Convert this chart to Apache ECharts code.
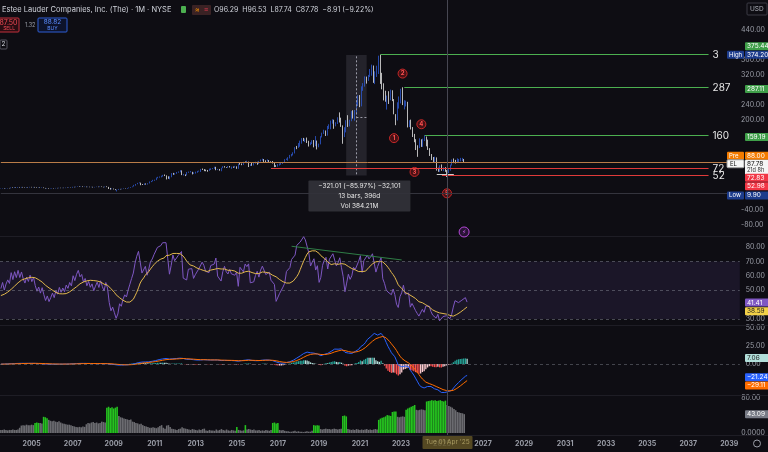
<!DOCTYPE html>
<html>
<head>
<meta charset="utf-8">
<title>EL 1M</title>
<script src="https://cdn.jsdelivr.net/npm/echarts@6/dist/echarts.min.js"></script>
<style>
  html, body { margin: 0; padding: 0; background: #0e0d13; }
  #chart { width: 768px; height: 452px; }
</style>
</head>
<body>
<div id="chart"></div>
<script>
// monthly bars, split adjusted (first visible bar 2003-07)
const warmupCloses = [
  18.2, 17.4, 18.0, 17.3, 18.4, 17.8, 18.5, 17.6, 16.4, 17.1, 16.6, 17.4, // 2001
  16.9, 17.6, 18.2, 17.5, 18.4, 17.8, 16.9, 17.5, 16.6, 17.2, 16.5, 16.9, // 2002
  16.3, 16.9, 16.4, 17.3, 16.8, 17.2                                      // 2003 H1
]
const closes = [
  17.6, 18.4, 17.5, 18.3, 18.9, 18.5,
  20.2, 19.4, 20.8, 20.1, 21.5, 20.6, 21.7, 20.8, 20.2, 21.3, 20.7, 21.9,
  21.0, 21.8, 20.6, 19.7, 20.4, 19.4, 20.3, 19.1, 18.0, 18.7, 17.6, 18.2,
  18.9, 18.1, 19.2, 18.6, 19.7, 18.9, 19.6, 19.0, 20.1, 19.6, 20.6, 20.1,
  22.0, 21.3, 22.6, 23.5, 22.6, 23.1, 22.0, 22.7, 21.6, 22.4, 21.5, 22.1,
  21.0, 21.8, 22.5, 21.7, 22.9, 22.0, 21.3, 22.8, 21.9, 19.0, 16.8, 17.4,
  15.8, 13.9, 14.6, 16.4, 15.7, 17.0, 17.9, 17.4, 18.8, 20.1, 21.5, 23.0,
  26.4, 29.6, 32.4, 32.9, 28.0, 27.9, 31.0, 28.7, 31.6, 35.6, 37.3, 40.3,
  40.5, 46.5, 48.2, 48.4, 51.5, 52.6, 52.4, 48.7, 43.9, 49.3, 58.4, 56.2,
  57.8, 61.0, 61.9, 65.4, 54.1, 54.1, 53.2, 61.3, 61.6, 61.8, 57.4, 59.9,
  60.1, 64.0, 64.0, 69.3, 68.1, 65.8, 65.6, 65.3, 69.9, 70.9, 70.9, 75.3,
  68.8, 69.1, 66.9, 72.6, 76.5, 74.3, 73.4, 76.4, 74.7, 75.2, 74.4, 76.2,
  70.6, 83.3, 83.2, 81.3, 87.8, 86.7, 89.1, 79.8, 80.6, 80.5, 84.9, 88.1,
  85.3, 90.8, 94.3, 95.8, 91.1, 91.0, 92.9, 89.1, 88.6, 87.1, 77.1, 76.5,
  81.1, 82.0, 84.8, 87.1, 95.6, 95.8, 98.8, 106.8, 107.8, 111.8, 127.3, 127.2,
  134.9, 138.6, 149.7, 148.1, 149.4, 142.7, 134.9, 140.2, 145.3, 137.8, 143.6, 130.1,
  136.4, 155.0, 165.5, 171.9, 160.8, 183.1, 185.5, 198.3, 199.0, 186.3, 193.4, 206.5,
  195.1, 183.5, 159.3, 176.4, 197.6, 188.7, 197.5, 221.9, 218.3, 219.7, 244.2, 266.2,
  236.6, 284.5, 290.8, 313.8, 306.5, 318.1, 333.8, 340.4, 299.9, 324.3, 328.5, 370.2,
  311.9, 296.3, 272.3, 264.1, 264.6, 254.7, 273.1, 253.9, 215.9, 200.5, 234.7, 248.1,
  277.1, 242.3, 246.5, 246.8, 184.1, 196.4, 180.0, 160.4, 144.6, 128.9, 127.9, 146.3,
  132.0, 148.9, 154.2, 146.5, 123.2, 106.4, 99.9, 91.7, 99.7, 68.9, 64.6, 75.0,
  66.4, 71.7, 66.0, 60.0, 67.0, 80.8, 93.4, 88.4, 88.1, 90.6, 92.3, 94.8,
  96.29, 87.78
]
const highs = [
  17.9, 18.7, 18.6, 18.5, 19.2, 19.3,
  20.5, 20.6, 21.1, 21.2, 21.8, 21.9, 22.0, 22.0, 21.1, 21.6, 21.6, 22.2,
  22.2, 22.1, 22.0, 20.9, 20.7, 20.6, 20.6, 20.5, 19.3, 18.9, 18.9, 18.4,
  19.2, 19.1, 19.4, 19.4, 19.9, 19.9, 19.8, 19.8, 20.3, 20.3, 20.8, 20.8,
  22.3, 22.3, 22.9, 23.8, 23.8, 23.4, 23.4, 23.0, 22.9, 22.7, 22.6, 22.4,
  22.4, 22.1, 22.8, 22.8, 23.2, 23.2, 22.3, 23.1, 23.6, 22.2, 19.3, 17.9,
  17.7, 16.1, 15.0, 16.7, 16.8, 17.3, 18.2, 18.3, 19.1, 20.5, 21.9, 23.4,
  27.5, 29.9, 32.8, 34.3, 33.4, 29.8, 31.4, 31.3, 31.9, 36.6, 37.9, 40.9,
  41.3, 47.0, 48.9, 49.9, 52.0, 54.2, 55.1, 52.8, 50.3, 50.2, 58.8, 59.4,
  58.6, 61.8, 63.3, 66.9, 66.0, 56.9, 55.3, 61.9, 63.0, 64.4, 62.3, 60.9,
  62.7, 64.7, 65.5, 70.0, 71.0, 69.5, 68.1, 67.2, 70.8, 71.6, 72.3, 75.8,
  75.6, 70.1, 69.9, 73.1, 77.2, 77.4, 74.9, 77.5, 77.7, 76.0, 76.4, 78.0,
  76.9, 84.0, 86.3, 84.5, 88.9, 89.9, 91.8, 89.5, 82.5, 86.8, 85.9, 89.3,
  88.9, 91.4, 95.2, 97.5, 96.3, 93.0, 95.5, 93.6, 90.4, 91.1, 87.7, 79.9,
  83.0, 84.5, 87.0, 88.5, 95.9, 97.6, 101.1, 107.3, 110.0, 114.3, 127.9, 131.2,
  138.9, 145.3, 152.0, 152.7, 150.9, 153.6, 145.0, 141.0, 146.4, 146.9, 157.5, 145.5,
  137.4, 157.2, 166.6, 174.4, 172.5, 184.5, 188.9, 198.9, 202.5, 201.1, 194.4, 207.6,
  220.6, 206.5, 186.0, 181.0, 199.8, 213.1, 201.0, 224.0, 226.4, 227.0, 253.9, 266.3,
  266.7, 290.0, 298.5, 316.5, 315.9, 320.5, 336.1, 347.8, 345.5, 330.0, 345.0, 371.7,
  374.2, 326.0, 298.1, 278.3, 265.5, 277.0, 281.2, 279.5, 256.0, 215.9, 247.5, 263.0,
  283.6, 287.5, 253.0, 251.9, 248.8, 199.6, 201.3, 181.5, 163.3, 149.2, 133.0, 151.5,
  148.9, 150.7, 159.8, 156.3, 148.0, 125.3, 109.7, 101.7, 102.5, 100.7, 73.3, 79.6,
  82.0, 74.1, 74.8, 66.9, 69.4, 81.5, 95.2, 97.8, 94.1, 98.2, 96.5, 99.4,
  99.5, 96.53
]
const lows = [
  16.9, 17.4, 17.3, 17.3, 18.0, 18.2,
  18.3, 19.1, 19.2, 19.8, 19.8, 20.3, 20.3, 20.5, 19.9, 20.0, 20.4, 20.5,
  20.7, 20.8, 20.3, 19.4, 19.4, 19.1, 19.2, 18.9, 17.7, 17.7, 17.3, 17.4,
  17.9, 17.9, 17.9, 18.4, 18.4, 18.7, 18.7, 18.8, 18.8, 19.4, 19.4, 19.9,
  19.9, 21.0, 21.1, 22.4, 22.3, 22.4, 21.7, 21.6, 21.3, 21.4, 21.2, 21.3,
  20.6, 20.7, 21.5, 21.4, 21.5, 21.7, 20.9, 21.0, 21.5, 16.5, 14.9, 15.8,
  15.4, 13.5, 9.90, 14.3, 15.4, 15.5, 16.7, 17.1, 17.2, 18.5, 19.8, 21.2,
  23.8, 25.3, 29.2, 31.6, 26.6, 27.3, 27.2, 28.2, 28.4, 31.3, 34.8, 36.7,
  38.3, 40.1, 45.0, 46.6, 47.5, 49.4, 51.0, 42.0, 43.7, 42.3, 47.8, 54.3,
  54.5, 56.9, 59.6, 60.9, 53.5, 52.6, 50.9, 52.8, 59.4, 60.6, 55.4, 56.5,
  57.6, 59.7, 62.7, 61.9, 67.2, 64.0, 63.8, 62.5, 64.7, 67.1, 69.4, 70.0,
  66.5, 66.8, 65.2, 63.8, 72.0, 73.6, 72.8, 73.0, 73.8, 70.3, 73.0, 73.2,
  70.2, 70.2, 81.2, 79.9, 80.5, 85.9, 85.3, 75.0, 77.7, 78.3, 79.3, 84.1,
  81.1, 83.0, 89.8, 92.1, 88.5, 86.9, 89.7, 88.2, 86.3, 84.5, 74.8, 75.4,
  76.0, 79.0, 81.1, 83.0, 86.6, 94.0, 91.8, 98.0, 103.2, 105.8, 111.2, 122.6,
  126.0, 129.0, 137.3, 144.0, 141.5, 139.1, 129.6, 133.2, 136.2, 127.5, 130.5, 121.9,
  127.6, 135.4, 153.8, 163.2, 157.7, 158.7, 176.4, 175.6, 190.5, 176.9, 183.5, 189.6,
  193.7, 182.0, 137.0, 154.7, 167.3, 181.8, 183.2, 197.0, 204.2, 198.5, 214.5, 237.6,
  234.5, 236.9, 278.0, 289.2, 297.3, 304.5, 314.7, 318.4, 299.2, 296.0, 315.0, 323.0,
  296.5, 282.1, 252.4, 249.0, 228.0, 243.0, 253.0, 250.6, 215.5, 186.5, 199.0, 230.7,
  244.5, 240.0, 228.5, 236.4, 180.5, 181.5, 175.1, 155.0, 141.1, 120.3, 102.2, 125.5,
  128.6, 128.7, 144.1, 130.2, 120.6, 104.5, 93.4, 87.0, 86.4, 65.5, 62.3, 62.3,
  65.0, 64.0, 62.3, 48.4, 58.8, 65.3, 79.0, 85.5, 84.4, 85.9, 87.0, 90.2,
  91.2, 87.74
]
// volume, millions
const volumes = [
  7, 7, 8, 7, 6, 7,
  7, 8, 7, 7, 8, 12, 17, 18, 17, 19, 18, 18,
  19, 18, 23, 24, 23, 23, 22, 37, 36, 34, 30, 28,
  27, 28, 26, 25, 27, 24, 22, 21, 20, 19, 19, 18,
  16, 15, 14, 13, 14, 13, 15, 14, 20, 23, 22, 24,
  25, 23, 24, 22, 23, 26, 25, 24, 58, 60, 57, 59,
  56, 58, 60, 39, 36, 35, 33, 32, 31, 30, 31, 26,
  25, 23, 22, 20, 21, 18, 16, 15, 14, 12, 12, 13,
  12, 11, 13, 16, 18, 12, 10, 17, 18, 14, 10, 9,
  8, 7, 9, 10, 13, 11, 10, 9, 8, 7, 9, 8,
  7, 6, 8, 7, 9, 10, 6, 5, 7, 6, 6, 5,
  8, 6, 7, 9, 7, 6, 8, 6, 5, 7, 6, 5,
  14, 7, 6, 5, 6, 18, 8, 9, 8, 7, 8, 6,
  6, 7, 5, 6, 5, 7, 6, 5, 7, 23, 24, 22,
  23, 7, 6, 7, 5, 4, 4, 3, 3, 4, 5, 3,
  4, 3, 3, 2, 3, 4, 3, 3, 5, 18, 17, 18,
  17, 9, 8, 9, 10, 9, 9, 8, 9, 10, 9, 8,
  9, 10, 39, 40, 38, 9, 8, 7, 8, 7, 9, 8,
  7, 8, 7, 8, 9, 7, 8, 7, 8, 9, 8, 30,
  33, 35, 36, 38, 41, 40, 39, 48, 49, 49, 37, 36,
  37, 38, 37, 53, 56, 58, 60, 62, 64, 53, 52, 53,
  54, 53, 52, 72, 73, 74, 75, 74, 75, 73, 74, 75,
  73, 72, 74, 64, 62, 60, 58, 55, 52, 48, 47, 46,
  45, 43.09
]
const greenVolRanges = [
  ['2005-03', '2005-05'], ['2005-08', '2005-10'], ['2008-09', '2009-03'],
  ['2015-01', '2015-01'], ['2015-06', '2015-06'], ['2016-10', '2017-01'],
  ['2018-10', '2019-01'], ['2020-03', '2020-05'], ['2021-12', '2022-10'],
  ['2023-04', '2023-09'], ['2024-04', '2025-03']
]
// drawn horizontal levels: [from month, to month, price, colour, text]
const levels = [
  ['2003-07', '2039-04', 88, '#b97c48', ''],
  ['2003-07', '2039-04', 5, '#34343d', ''],
  ['2022-01', '2038-01', 375.44, '#4caf50', '3'],
  ['2023-03', '2038-01', 287.11, '#4caf50', '287'],
  ['2024-03', '2038-01', 159.19, '#4caf50', '160'],
  ['2016-09', '2038-01', 72.83, '#e03a3a', '72'],
  ['2025-01', '2038-01', 52.98, '#e03a3a', '52'],
  ['2024-10', '2025-08', 56.6, '#cfcfcf', '']
]
const priceTicks = [440, 360, 320, 240, 200, -40, -80]
const rsiTicks = [80, 70, 60, 50, 30]
const macdTicks = [50, 25, 0]

// month axis 2003-07 .. 2039-04
const months = []
for (let i = 0; i < 430; i++) {
  const y = 2003 + Math.floor((6 + i) / 12)
  const m = (6 + i) % 12 + 1
  months.push(y + '-' + String(m).padStart(2, '0'))
}

const allCloses = warmupCloses.concat(closes)
const off = warmupCloses.length
const vis = months.slice(0, closes.length)

// candles: open is previous month's close
const candles = closes.map((c, i) => {
  const o = allCloses[off + i - 1]
  return [o, c, Math.min(lows[i], o, c), Math.max(highs[i], o, c)]
})

function rsiCalc(src, len) {
  const out = []
  let up = 0, dn = 0
  for (let i = 0; i < src.length; i++) {
    if (i === 0) { out.push(null); continue }
    const ch = src[i] - src[i - 1]
    const u = Math.max(ch, 0), d = Math.max(-ch, 0)
    if (i <= len) { up += u / len; dn += d / len } else {
      up = (up * (len - 1) + u) / len
      dn = (dn * (len - 1) + d) / len
    }
    out.push(i < len ? null : (dn === 0 ? 100 : 100 - 100 / (1 + up / dn)))
  }
  return out
}
function sma(src, len) {
  return src.map((v, i) => {
    if (i < len - 1) return null
    let s = 0
    for (let k = i - len + 1; k <= i; k++) { if (src[k] == null) return null; s += src[k] }
    return s / len
  })
}
function ema(src, len) {
  const a = 2 / (len + 1)
  let prev = null
  return src.map(v => { prev = prev == null ? v : prev + a * (v - prev); return prev })
}

const rsiAll = rsiCalc(allCloses, 14)
const rsiMaAll = sma(rsiAll, 14)
const e12 = ema(allCloses, 12), e26 = ema(allCloses, 26)
const macdAll = e12.map((v, i) => v - e26[i])
const sigAll = ema(macdAll, 9)
const histAll = macdAll.map((v, i) => v - sigAll[i])

const rsi = rsiAll.slice(off), rsiMa = rsiMaAll.slice(off)
const macd = macdAll.slice(off), signal = sigAll.slice(off)
const hist = histAll.slice(off).map((h, i) => {
  const p = histAll[off + i - 1]
  const color = h >= 0 ? (h > p ? '#26a69a' : '#b2dfdb') : (h < p ? '#ff5252' : '#ffcdd2')
  return { value: h, itemStyle: { color } }
})
const volBars = volumes.map((v, i) => {
  const m = vis[i]
  const hot = greenVolRanges.some(r => m >= r[0] && m <= r[1])
  return { value: v, itemStyle: { color: hot ? '#25c21f' : '#6b6b70' } }
})

const FONT = 'Inter, "Noto Sans", sans-serif'
const axisTxt = '#9b9ea8'
const L = -1, R = 23

function xAxisFor(idx, showLabels) {
  return {
    type: 'category', gridIndex: idx, data: months, boundaryGap: true,
    axisLine: { show: false }, axisTick: { show: false }, splitLine: { show: false },
    axisLabel: {
      show: showLabels, color: axisTxt, fontSize: 7, fontWeight: 'bold', fontFamily: FONT, margin: 7,
      interval: (i, v) => v.endsWith('-01') && (+v.slice(0, 4)) % 2 === 1,
      formatter: v => v.slice(0, 4)
    }
  }
}
function yAxisFor(idx, min, max, interval, fmt) {
  return {
    type: 'value', gridIndex: idx, position: 'right', min, max, interval,
    axisLine: { show: false }, axisTick: { show: false }, splitLine: { show: false },
    axisLabel: { color: axisTxt, fontSize: 7, fontFamily: FONT, margin: 6, formatter: fmt }
  }
}

const chart = echarts.init(document.getElementById('chart'))
chart.setOption({
  backgroundColor: '#0e0d13',
  animation: false,
  grid: [
    { left: L, right: R, top: -2.32, height: 242.56 },
    { left: L, right: R, top: 232.6, height: 100.8 },
    { left: L, right: R, top: 328, height: 72 },
    { left: L, right: R, top: 398, height: 35 }
  ],
  xAxis: [xAxisFor(0, false), xAxisFor(1, false), xAxisFor(2, false), xAxisFor(3, true)],
  yAxis: [
    yAxisFor(0, -120, 520, 40, v => priceTicks.includes(v) ? v.toFixed(2) : ''),
    yAxisFor(1, 20, 90, 10, v => rsiTicks.includes(v) ? v.toFixed(2) : ''),
    yAxisFor(2, -50, 50, 25, v => macdTicks.includes(v) ? v.toFixed(2) : ''),
    yAxisFor(3, 0, 80, 40, v => v === 80 ? '80.00' : (v === 0 ? '0.0000' : ''))
  ],
  series: [
    {
      type: 'candlestick', xAxisIndex: 0, yAxisIndex: 0, data: candles, barWidth: '55%', z: 4,
      itemStyle: { color: '#2d59d2', color0: '#e6e6e6', borderColor: '#2d59d2', borderColor0: '#e6e6e6', borderWidth: 0.8 },
      markLine: {
        silent: true, symbol: ['none', 'none'], animation: false, label: { show: false },
        lineStyle: { color: '#9a9aa6', type: [2, 2], width: 1 },
        data: [
          [{ coord: ['2020-11', 370] }, { coord: ['2020-11', 54] }],
          [{ coord: ['2020-11', 208] }, { coord: ['2021-05', 208] }]
        ]
      },
      markArea: {
        silent: true,
        data: [[{ coord: ['2020-05', 373.4], itemStyle: { color: 'rgba(125,125,140,0.2)' } }, { coord: ['2021-05', 52.4] }]]
      },
      markPoint: {
        silent: true, symbol: 'circle', symbolSize: 9, animation: false,
        itemStyle: { color: 'rgba(110,20,24,0.6)', borderColor: '#c62828', borderWidth: 1 },
        label: { show: true, formatter: p => p.name, color: '#ff5252', fontSize: 6, fontWeight: 'bold', fontFamily: FONT },
        data: [
          { name: '1', coord: ['2022-09', 152] },
          { name: '2', coord: ['2023-02', 324] },
          { name: '3', coord: ['2023-09', 62] },
          { name: '4', coord: ['2024-01', 189] },
          { name: '5', coord: ['2025-04', 5] },
          { name: '⚡', coord: ['2026-02', -98], symbolSize: 10,
            itemStyle: { color: 'rgba(120,40,150,0.25)', borderColor: '#b548d8', borderWidth: 1 },
            label: { color: '#c860e8', fontSize: 6, fontFamily: 'DejaVu Sans' } }
        ]
      }
    },
    {
      name: 'RSI', type: 'line', xAxisIndex: 1, yAxisIndex: 1, data: rsi, showSymbol: false,
      lineStyle: { color: '#7e57c2', width: 1 }, z: 3,
      markArea: { silent: true, data: [[{ yAxis: 70, itemStyle: { color: 'rgba(126,87,194,0.12)' } }, { yAxis: 30 }]] },
      markLine: {
        silent: true, symbol: ['none', 'none'], label: { show: false },
        lineStyle: { color: 'rgba(120,123,134,0.55)', type: [3, 3], width: 1 },
        data: [
          { yAxis: 70 }, { yAxis: 50 }, { yAxis: 30 },
          [{ coord: ['2017-08', 80.5], lineStyle: { color: '#2f7d46', type: 'solid' } }, { coord: ['2022-12', 71], lineStyle: { color: '#2f7d46', type: 'solid' } }]
        ]
      }
    },
    {
      name: 'RSI MA', type: 'line', xAxisIndex: 1, yAxisIndex: 1, data: rsiMa, showSymbol: false,
      lineStyle: { color: '#e2b84c', width: 1 }, z: 4
    },
    {
      name: 'Histogram', type: 'bar', xAxisIndex: 2, yAxisIndex: 2, data: hist, barWidth: '75%',
      markLine: {
        silent: true, symbol: ['none', 'none'], label: { show: false },
        lineStyle: { color: 'rgba(120,123,134,0.5)', type: [3, 3], width: 1 },
        data: [{ yAxis: 0 }]
      }
    },
    {
      name: 'MACD', type: 'line', xAxisIndex: 2, yAxisIndex: 2, data: macd, showSymbol: false,
      lineStyle: { color: '#2962ff', width: 1 }, z: 4
    },
    {
      name: 'Signal', type: 'line', xAxisIndex: 2, yAxisIndex: 2, data: signal, showSymbol: false,
      lineStyle: { color: '#ff6d00', width: 1 }, z: 4
    },
    {
      name: 'Volume', type: 'bar', xAxisIndex: 3, yAxisIndex: 3, data: volBars, barCategoryGap: '8%'
    }
  ]
})

// overlays: levels, header, price-scale tags, crosshair, measure box
const py = (yi, v) => chart.convertToPixel({ yAxisIndex: yi }, v)
const pxm = m => chart.convertToPixel({ xAxisIndex: 0 }, m)
const g = []
function txt(x, y, text, fill, size, align) {
  g.push({ type: 'text', x, y, z: 120, silent: true,
    style: { text, fill, font: (size || 7) + 'px ' + FONT, align: align || 'left', verticalAlign: 'middle' } })
}
function box(x, y, w, h, fill, stroke, z) {
  g.push({ type: 'rect', z: z || 110, silent: true, shape: { x, y, width: w, height: h, r: 1 },
    style: { fill: fill || 'none', stroke: stroke || null, lineWidth: stroke ? 1 : 0 } })
}
function tagAt(yi, v, dy, text, bg, fg, tag, tagBg, tagFg) {
  const y = py(yi, v) + dy
  box(745, y - 4, 24, 8, bg)
  txt(747, y, text, fg, 6.5)
  if (tag) { box(727, y - 4, 17, 8, tagBg || bg); txt(729, y, tag, tagFg || fg, 6) }
}

levels.forEach(([a, b, v, color, label]) => {
  const y = Math.round(py(0, v)) + 0.5
  const x1 = pxm(a), x2 = pxm(b)
  g.push({ type: 'line', z: 60, silent: true, shape: { x1, y1: y, x2, y2: y }, style: { stroke: color, lineWidth: 1 } })
  if (label) txt(x2 + 4, y, label, '#e8e8e8', 10)
})

// pane separators
;[236.5, 325.5, 395.5, 435.5].forEach(y => g.push({ type: 'line', z: 1, silent: true,
  shape: { x1: 0, y1: y, x2: 768, y2: y }, style: { stroke: '#1e1d25', lineWidth: 1 } }))

// crosshair
const cx = Math.round(pxm('2025-04')) + 0.5
g.push({ type: 'line', z: 90, silent: true, shape: { x1: cx, y1: 0, x2: cx, y2: 435 }, style: { stroke: '#474752', lineWidth: 1 } })
box(cx - 25, 436, 50, 13, 'rgba(96,84,38,0.85)', null, 115)
txt(cx, 442.5, "Tue 01 Apr '25", '#a89a60', 6.5, 'center')
box(745, 436, 23, 16, '#0e0d13', null, 115)
g.push({ type: 'circle', z: 120, silent: true, shape: { cx: 757, cy: 443.5, r: 3.5 }, style: { fill: 'none', stroke: '#9b9ea8', lineWidth: 1 } })

// header
txt(2, 10, 'Estee Lauder Companies, Inc. (The) · 1M · NYSE', '#d1d4dc', 7.5)
box(181, 6, 5, 7, '#4caf50')
box(192, 5, 19, 10, '#3a2224')
txt(195, 10, '≈', '#ff9800', 7)
txt(204, 10, '≡', '#e53950', 7)
txt(214, 10, 'O96.29  H96.53  L87.74  C87.78  −8.91 (−9.22%)', '#d1d4dc', 7)
box(-3, 18, 22, 14, 'rgba(60,14,18,0.6)', '#c2303c')
txt(17.5, 22.5, '87.50', '#f04a55', 7, 'right')
txt(15, 28.5, 'SELL', '#f04a55', 5, 'right')
txt(25, 25, '1.32', '#9b9ea8', 5.5)
box(38, 18, 29, 14, 'rgba(14,24,60,0.6)', '#2f5fd6')
txt(52.5, 22.5, '88.82', '#5b8cff', 6.5, 'center')
txt(52.5, 28.5, 'BUY', '#5b8cff', 5, 'center')
box(0, 40, 7, 9, null, '#555560')
txt(1.5, 44.5, '2', '#d1d4dc', 6.5)
box(747, 3, 20, 12, null, '#3a3a44')
txt(750, 9, 'USD', '#b2b5be', 6.5)

// price scale tags
tagAt(0, 375.44, -8, '375.44', '#3f9f49', '#ffffff')
tagAt(0, 374.20, 0, '374.20', '#1d3c8c', '#ffffff', 'High')
tagAt(0, 287.11, 1.5, '287.11', '#3f9f49', '#ffffff')
tagAt(0, 159.19, 1.5, '159.19', '#3f9f49', '#ffffff')
tagAt(0, 88, -6.4, '88.00', '#f57c00', '#ffffff', 'Pre')
const elY = py(0, 87.78) + 1.5
box(745, elY - 4, 24, 15, '#f5f5f5')
txt(747, elY, '87.78', '#111111', 6.5)
txt(747, elY + 7, '21d 8h', '#333333', 5.5)
box(727, elY - 4, 17, 8, '#f5f5f5', '#999999')
txt(730, elY, 'EL', '#111111', 6)
tagAt(0, 72.83, 10, '72.83', '#f23645', '#ffffff')
tagAt(0, 52.98, 11, '52.98', '#f23645', '#ffffff')
tagAt(0, 9.90, 4, '9.90', '#1d3c8c', '#ffffff', 'Low')
tagAt(1, 41.41, 0, '41.41', '#7e57c2', '#ffffff')
tagAt(1, 38.59, 4.5, '38.59', '#f2d148', '#1a1a1a')
tagAt(2, 7.06, -1, '7.06', '#b2dfdb', '#1a1a1a')
tagAt(2, -21.24, -2, '−21.24', '#2962ff', '#ffffff')
tagAt(2, -29.11, 0.5, '−29.11', '#ff6d00', '#ffffff')
tagAt(3, 43.09, 0, '43.09', '#787b86', '#ffffff')

// measure readout under the shaded range
const mx = pxm('2020-11') + 3
const my = py(0, 52.4) + 5
box(mx - 51, my, 102, 31, 'rgba(50,50,58,0.92)', null, 112)
txt(mx, my + 6, '−321.01 (−85.97%) −32,101', '#e6e6e6', 6.5, 'center')
txt(mx, my + 16, '13 bars, 396d', '#e6e6e6', 6.5, 'center')
txt(mx, my + 26, 'Vol 384.21M', '#e6e6e6', 6.5, 'center')

chart.setOption({ graphic: g })
</script>
</body>
</html>
